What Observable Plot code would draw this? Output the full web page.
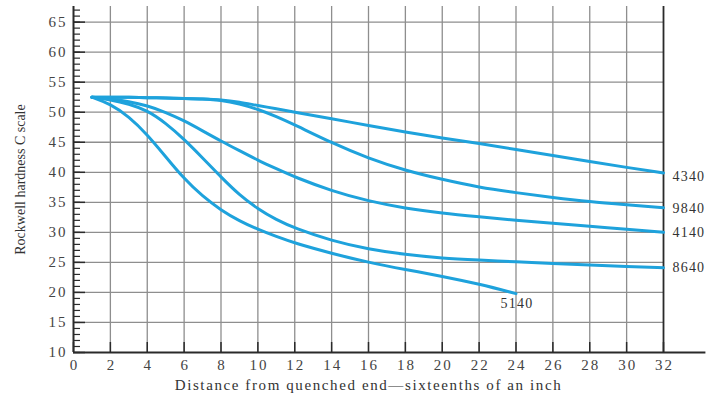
<!DOCTYPE html>
<html><head><meta charset="utf-8">
<script src="https://cdn.jsdelivr.net/npm/d3@7"></script>
<script src="https://cdn.jsdelivr.net/npm/@observablehq/plot@0.6"></script>
<style>body{margin:0;background:#fff}</style>
</head><body><div id="chart"></div>
<script>
// Distance from quenched end (sixteenths of an inch)
const distances = [1,2,3,4,5,6,7,8,9,10,11,12,14,16,18,20,22,24,26,28,30,32];
// Rockwell C hardness for each steel
const hrc4340 = [52.5,52.5,52.5,52.4,52.4,52.3,52.2,52.1,51.7,51.1,50.6,50.0,48.9,47.8,46.7,45.7,44.8,43.8,42.8,41.8,40.8,39.9];
const hrc9840 = [52.5,52.5,52.5,52.4,52.4,52.3,52.2,52.0,51.4,50.5,49.3,47.9,44.9,42.3,40.3,38.8,37.5,36.6,35.8,35.1,34.6,34.1];
const hrc4140 = [52.5,52.2,51.8,51.1,50.0,48.6,46.9,45.2,43.6,42.0,40.6,39.2,36.9,35.2,34.0,33.2,32.6,32.0,31.5,31.0,30.5,30.0];
const hrc8640 = [52.5,52.1,51.4,50.3,48.2,45.5,42.4,39.2,36.2,33.9,32.1,30.7,28.6,27.2,26.3,25.7,25.4,25.1,24.8,24.6,24.3,24.1];
const hrc5140 = [52.5,51.4,49.3,46.3,42.6,38.9,36.0,33.7,31.9,30.5,29.3,28.2,26.5,25.0,23.8,22.7,21.4,19.8,null,null,null,null];
const steelNames = ["4340","9840","4140","8640","5140"];
const xTicks = [0,2,4,6,8,10,12,14,16,18,20,22,24,26,28,30,32];
const yTicks = [10,15,20,25,30,35,40,45,50,55,60,65];
const yMinorTicks = d3.range(10, 68, 1);
const xTitle = "Distance from quenched end\u2014sixteenths of an inch";
const yTitle = "Rockwell hardness C scale";

const seriesValues = [hrc4340, hrc9840, hrc4140, hrc8640, hrc5140];
const rows = steelNames.flatMap((name, k) =>
  seriesValues[k].map((v, i) => ({steel: name, d: distances[i], hrc: v})).filter(r => r.hrc != null));
const ends = steelNames.map(name => { const r = rows.filter(r => r.steel === name); return r[r.length - 1]; });
const rightLabels = ends.filter(e => e.steel !== "5140");
const bottomLabels = ends.filter(e => e.steel === "5140");
const nudge = {"4340": 4, "9840": 1, "4140": 0, "8640": 0};

const blue = "#1ea2dc";
const grid = "#8e8e8e";
const dark = "#2a2a2a";

const plot = Plot.plot({
  width: 710, height: 398,
  marginLeft: 73, marginRight: 47, marginTop: 6, marginBottom: 46,
  x: {domain: [0, 32]},
  y: {domain: [10, 67.6]},
  style: {fontFamily: "Liberation Serif", fontSize: "14px", color: "#333", background: "#fff"},
  marks: [
    Plot.ruleX(xTicks.slice(1, -1), {stroke: grid, strokeWidth: 1.3}),
    Plot.ruleY(yTicks.slice(1), {stroke: grid, strokeWidth: 1.3}),
    Plot.tickY(yMinorTicks, {y: d => d, stroke: dark, strokeWidth: 1.2, insetRight: 583}),
    Plot.tickY(yTicks, {y: d => d, stroke: dark, strokeWidth: 1.5, insetRight: 578}),
    Plot.tickX(xTicks, {x: d => d, stroke: dark, strokeWidth: 1.5, insetTop: 336}),
    Plot.ruleX([0], {stroke: dark, strokeWidth: 2}),
    Plot.ruleX([32], {stroke: dark, strokeWidth: 1.8}),
    Plot.ruleY([10], {x1: 0, x2: 34.3, stroke: dark, strokeWidth: 2}),
    Plot.axisX(xTicks, {tickSize: 0, tickPadding: 7, fill: "#444", fontSize: 15, label: null, dx: 1}),
    Plot.axisY(yTicks, {tickSize: 0, tickPadding: 6, fill: "#444", fontSize: 15, label: null}),
    Plot.line(rows, {x: "d", y: "hrc", z: "steel", stroke: blue, strokeWidth: 3, curve: "basis"}),
    ...rightLabels.map(e => Plot.text([e], {x: "d", y: "hrc", text: "steel", textAnchor: "start", dx: 9, dy: nudge[e.steel], fill: "#333", fontSize: 14})),
    Plot.text(bottomLabels, {x: "d", y: "hrc", text: "steel", textAnchor: "middle", dy: 10, dx: 1, fill: "#333", fontSize: 14}),
    Plot.text([xTitle], {frameAnchor: "bottom", dy: 33, fill: "#333", fontSize: 15, lineAnchor: "middle"}),
    Plot.text([yTitle], {frameAnchor: "left", dx: -53, rotate: -90, textAnchor: "middle", fill: "#333", fontSize: 14, lineAnchor: "middle"})
  ]
});
plot.querySelectorAll('[aria-label="x-axis tick label"] text, [aria-label="y-axis tick label"] text').forEach(t => t.setAttribute("letter-spacing", "2"));
plot.querySelectorAll('[aria-label="text"] text').forEach(t => {
  if (steelNames.includes(t.textContent)) t.setAttribute("letter-spacing", "1.2");
  if (t.textContent === xTitle) t.setAttribute("letter-spacing", "1.6");
});
document.getElementById("chart").appendChild(plot);
</script>
</body></html>
